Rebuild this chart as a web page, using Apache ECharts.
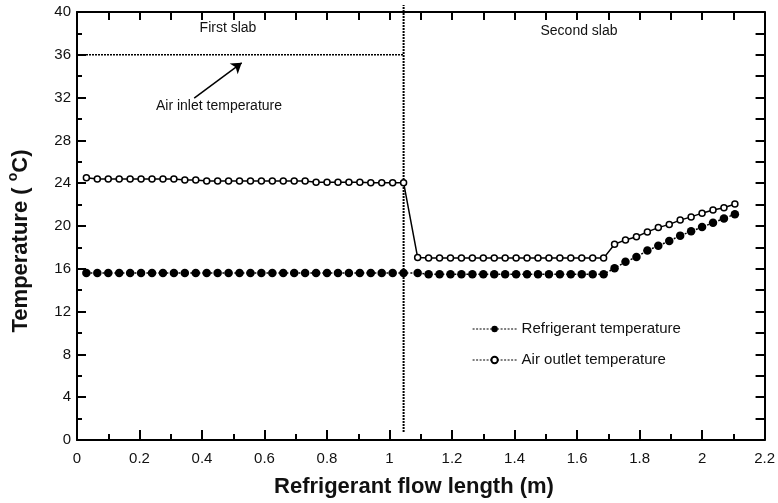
<!DOCTYPE html>
<html>
<head>
<meta charset="utf-8">
<script src="https://cdn.jsdelivr.net/npm/echarts@6/dist/echarts.min.js"></script>
<style>
  html, body { margin: 0; padding: 0; background: #fff; }
  #chart { width: 778px; height: 503px; }
</style>
</head>
<body>
<div id="chart"></div>
<script>
// Refrigerant flow length (m) of each node, first and second slab
const lengthFirstSlab = [
  0.03, 0.065, 0.10, 0.135, 0.17, 0.205, 0.24, 0.275, 0.31, 0.345,
  0.38, 0.415, 0.45, 0.485, 0.52, 0.555, 0.59, 0.625, 0.66, 0.695,
  0.73, 0.765, 0.80, 0.835, 0.87, 0.905, 0.94, 0.975, 1.01, 1.045
];
const lengthSecondSlab = [
  1.09, 1.125, 1.16, 1.195, 1.23, 1.265, 1.30, 1.335, 1.37, 1.405,
  1.44, 1.475, 1.51, 1.545, 1.58, 1.615, 1.65, 1.685, 1.72, 1.755,
  1.79, 1.825, 1.86, 1.895, 1.93, 1.965, 2.00, 2.035, 2.07, 2.105
];

// Temperatures (°C)
const airOutletFirst = [
  24.5, 24.4, 24.4, 24.4, 24.4, 24.4, 24.4, 24.4, 24.4, 24.3,
  24.3, 24.2, 24.2, 24.2, 24.2, 24.2, 24.2, 24.2, 24.2, 24.2,
  24.2, 24.1, 24.1, 24.1, 24.1, 24.1, 24.05, 24.05, 24.05, 24.05
];
const airOutletSecond = [
  17.05, 17.0, 17.0, 17.0, 17.0, 17.0, 17.0, 17.0, 17.0, 17.0,
  17.0, 17.0, 17.0, 17.0, 17.0, 17.0, 17.0, 17.0, 18.3, 18.7,
  19.0, 19.45, 19.85, 20.15, 20.55, 20.85, 21.2, 21.5, 21.7, 22.05
];
const refrigerantFirst = [
  15.6, 15.6, 15.6, 15.6, 15.6, 15.6, 15.6, 15.6, 15.6, 15.6,
  15.6, 15.6, 15.6, 15.6, 15.6, 15.6, 15.6, 15.6, 15.6, 15.6,
  15.6, 15.6, 15.6, 15.6, 15.6, 15.6, 15.6, 15.6, 15.6, 15.6
];
const refrigerantSecond = [
  15.6, 15.5, 15.5, 15.5, 15.5, 15.5, 15.5, 15.5, 15.5, 15.5,
  15.5, 15.5, 15.5, 15.5, 15.5, 15.5, 15.5, 15.5, 16.05, 16.65,
  17.1, 17.7, 18.15, 18.6, 19.1, 19.5, 19.9, 20.3, 20.7, 21.1
];

const airInletTemp = 36;       // constant inlet air temperature
const slabBoundary = 1.045;    // flow length where the first slab ends
const boundarySpan = [0.75, 40.65];
const inletArrow = [[0.375, 31.95], [0.527, 35.25]];

const seriesNames = ['Refrigerant temperature', 'Air outlet temperature'];
const xTitle = 'Refrigerant flow length (m)';

const FONT = '"Liberation Sans", Arial, Helvetica, sans-serif';
const INK = '#111';

const pairs = (xs, ys) => xs.map((x, i) => [x, ys[i]]);
const lengths = lengthFirstSlab.concat(lengthSecondSlab);
const refrigerant = pairs(lengths, refrigerantFirst.concat(refrigerantSecond));
const airOutlet = pairs(lengths, airOutletFirst.concat(airOutletSecond));

const axisLine = { show: true, onZero: false, lineStyle: { color: '#000', width: 2 } };
const tickStyle = { color: '#000', width: 2 };

const chart = echarts.init(document.getElementById('chart'), null, { renderer: 'canvas' });

chart.setOption({
  backgroundColor: '#fff',
  animation: false,
  textStyle: { fontFamily: FONT },
  grid: { left: 77, right: 10, top: 12, bottom: 63, containLabel: false },
  xAxis: [
    {
      type: 'value', position: 'bottom', min: 0, max: 2.2, interval: 0.2,
      axisLine: axisLine,
      axisTick: { show: true, inside: true, length: 10, lineStyle: tickStyle },
      minorTick: { show: true, splitNumber: 2, length: 6, lineStyle: tickStyle },
      axisLabel: { fontSize: 15, color: INK, margin: 11, fontFamily: FONT },
      splitLine: { show: false }, minorSplitLine: { show: false }
    },
    {
      type: 'value', position: 'top', min: 0, max: 2.2, interval: 0.1,
      axisLine: axisLine,
      axisTick: { show: true, inside: true, length: 8, lineStyle: tickStyle },
      axisLabel: { show: false },
      splitLine: { show: false }
    }
  ],
  yAxis: [
    {
      type: 'value', position: 'left', min: 0, max: 40, interval: 4,
      axisLine: axisLine,
      axisTick: { show: true, inside: true, length: 9, lineStyle: tickStyle },
      minorTick: { show: true, splitNumber: 2, length: 5, lineStyle: tickStyle },
      axisLabel: { fontSize: 15, color: INK, margin: 6, fontFamily: FONT },
      splitLine: { show: false }, minorSplitLine: { show: false }
    },
    {
      type: 'value', position: 'right', min: 0, max: 40, interval: 2,
      axisLine: axisLine,
      axisTick: { show: true, inside: true, length: 9, lineStyle: tickStyle },
      axisLabel: { show: false },
      splitLine: { show: false }
    }
  ],
  legend: {
    orient: 'vertical', left: 472, top: 321, padding: 0,
    itemWidth: 44, itemHeight: 8, itemGap: 15,
    selectedMode: false,
    data: seriesNames,
    textStyle: { fontSize: 15, color: INK, lineHeight: 16, fontFamily: FONT },
    lineStyle: { color: '#000', width: 1.2, type: [2, 1.5] }
  },
  series: [
    {
      name: 'inlet',
      type: 'line',
      data: [[0, airInletTemp], [slabBoundary, airInletTemp]],
      symbol: 'none', silent: true, z: 2,
      lineStyle: { color: '#000', width: 1.6, type: [2, 1] },
      markLine: {
        silent: true,
        symbol: ['none', 'arrow'], symbolSize: 10,
        label: { show: false },
        itemStyle: { color: '#000' },
        lineStyle: { color: '#000', width: 1.5, type: 'solid' },
        data: [[{ coord: inletArrow[0] }, { coord: inletArrow[1] }]]
      }
    },
    {
      name: 'boundary',
      type: 'line',
      data: [[slabBoundary, boundarySpan[0]], [slabBoundary, boundarySpan[1]]],
      symbol: 'none', silent: true, clip: false, z: 2,
      lineStyle: { color: '#000', width: 2, type: [2, 1] }
    },
    {
      name: seriesNames[0],
      type: 'line',
      data: refrigerant,
      symbol: 'circle', symbolSize: 8.5,
      itemStyle: { color: '#000' },
      lineStyle: { color: '#000', width: 1.5, type: [2, 2] },
      z: 3
    },
    {
      name: seriesNames[1],
      type: 'line',
      data: airOutlet,
      symbol: 'circle', symbolSize: 6,
      itemStyle: { color: '#fff', borderColor: '#000', borderWidth: 1.5 },
      lineStyle: { color: '#000', width: 1.5 },
      z: 4
    }
  ],
  graphic: [
    {
      type: 'text', x: 228, y: 28,
      style: { text: 'First slab', font: '14px ' + FONT, fill: INK, align: 'center', verticalAlign: 'middle' }
    },
    {
      type: 'text', x: 579, y: 31.5,
      style: { text: 'Second slab', font: '14px ' + FONT, fill: INK, align: 'center', verticalAlign: 'middle' }
    },
    {
      type: 'text', x: 219, y: 106,
      style: { text: 'Air inlet temperature', font: '14px ' + FONT, fill: INK, align: 'center', verticalAlign: 'middle' }
    },
    {
      type: 'text', x: 414, y: 487,
      style: { text: xTitle, font: 'bold 22px ' + FONT, fill: INK, align: 'center', verticalAlign: 'middle' }
    },
    {
      type: 'text', x: 21, y: 241, rotation: Math.PI / 2,
      style: {
        text: 'Temperature ( {sup|o}C)',
        font: 'bold 22px ' + FONT, fill: INK, align: 'center', verticalAlign: 'middle',
        rich: { sup: { fontSize: 14, fontWeight: 'bold', fontFamily: FONT, fill: INK, verticalAlign: 'top', padding: [0, 0, 16, 0] } }
      }
    }
  ]
});
</script>
</body>
</html>
